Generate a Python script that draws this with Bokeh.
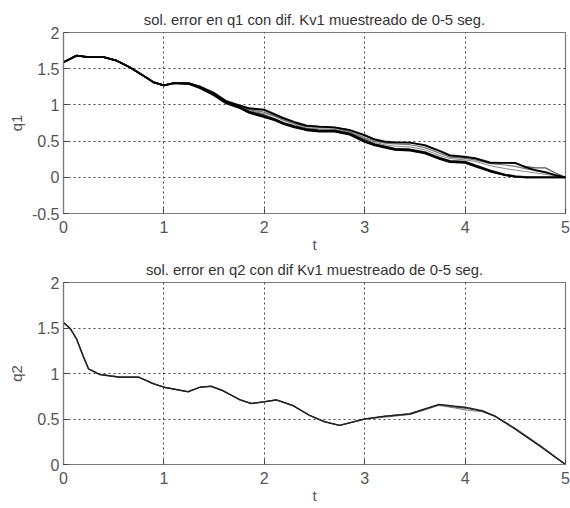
from bokeh.plotting import figure
from bokeh.layouts import column
from bokeh.models import FixedTicker
from bokeh.embed import file_html
from bokeh.resources import INLINE

# ---------------- data ----------------
title1 = "sol. error en q1 con dif. Kv1 muestreado de 0-5 seg."
title2 = "sol. error en q2 con dif Kv1 muestreado de 0-5 seg."
xticks = [0, 1, 2, 3, 4, 5]
yticks1 = [-0.5, 0, 0.5, 1, 1.5, 2]
yticks2 = [0, 0.5, 1, 1.5, 2]

t1 = [0, 0.13, 0.25, 0.4, 0.53, 0.66, 0.8, 0.9, 1.0, 1.1, 1.25, 1.36, 1.5, 1.62,
      1.75, 1.85, 2.0, 2.1, 2.2, 2.3, 2.42, 2.55, 2.7, 2.85, 3.0, 3.1, 3.2, 3.3,
      3.45, 3.6, 3.75, 3.85, 4.0, 4.1, 4.25, 4.4, 4.5, 4.6, 4.7, 4.8, 4.9, 5.0]

q1_a = [1.59, 1.68, 1.66, 1.66, 1.61, 1.52, 1.40, 1.31, 1.27, 1.30, 1.30, 1.25, 1.16, 1.05,
        0.99, 0.95, 0.93, 0.87, 0.81, 0.76, 0.71, 0.70, 0.69, 0.65, 0.58, 0.52, 0.49, 0.48,
        0.48, 0.44, 0.36, 0.30, 0.28, 0.26, 0.20, 0.20, 0.20, 0.14, 0.10, 0.07, 0.03, 0.0]
q1_b = [1.59, 1.68, 1.66, 1.66, 1.61, 1.52, 1.40, 1.31, 1.27, 1.30, 1.30, 1.26, 1.17, 1.06,
        1.00, 0.96, 0.94, 0.88, 0.82, 0.77, 0.72, 0.70, 0.69, 0.66, 0.59, 0.53, 0.50, 0.49,
        0.48, 0.45, 0.37, 0.31, 0.29, 0.27, 0.21, 0.20, 0.19, 0.15, 0.13, 0.13, 0.06, 0.0]
q1_c = [1.59, 1.68, 1.66, 1.66, 1.61, 1.52, 1.40, 1.31, 1.27, 1.30, 1.29, 1.25, 1.15, 1.04,
        0.98, 0.93, 0.90, 0.85, 0.79, 0.74, 0.70, 0.69, 0.68, 0.63, 0.55, 0.50, 0.47, 0.46,
        0.45, 0.41, 0.33, 0.28, 0.26, 0.24, 0.19, 0.17, 0.15, 0.12, 0.09, 0.06, 0.03, 0.0]
q1_d = [1.59, 1.68, 1.66, 1.66, 1.61, 1.52, 1.40, 1.31, 1.27, 1.30, 1.29, 1.24, 1.15, 1.04,
        0.98, 0.92, 0.88, 0.84, 0.78, 0.73, 0.68, 0.67, 0.66, 0.62, 0.54, 0.48, 0.45, 0.43,
        0.42, 0.38, 0.30, 0.26, 0.24, 0.22, 0.16, 0.12, 0.10, 0.08, 0.06, 0.04, 0.02, 0.0]
q1_e = [1.59, 1.68, 1.66, 1.66, 1.61, 1.52, 1.40, 1.31, 1.27, 1.30, 1.29, 1.24, 1.14, 1.03,
        0.97, 0.90, 0.84, 0.80, 0.74, 0.70, 0.66, 0.64, 0.64, 0.60, 0.50, 0.45, 0.42, 0.39,
        0.38, 0.34, 0.26, 0.22, 0.21, 0.16, 0.09, 0.03, 0.01, 0.0, 0.0, 0.0, 0.0, 0.0]
q1_f = [1.59, 1.68, 1.66, 1.66, 1.61, 1.52, 1.40, 1.31, 1.27, 1.30, 1.29, 1.24, 1.14, 1.03,
        0.97, 0.91, 0.86, 0.81, 0.75, 0.71, 0.67, 0.65, 0.65, 0.61, 0.52, 0.46, 0.43, 0.40,
        0.39, 0.35, 0.27, 0.23, 0.22, 0.17, 0.10, 0.04, 0.02, 0.01, 0.0, 0.0, 0.0, 0.0]
q1_g = [1.59, 1.68, 1.66, 1.66, 1.61, 1.52, 1.40, 1.31, 1.27, 1.30, 1.29, 1.23, 1.13, 1.02,
        0.96, 0.89, 0.83, 0.79, 0.73, 0.69, 0.65, 0.63, 0.63, 0.59, 0.49, 0.44, 0.41, 0.38,
        0.37, 0.33, 0.25, 0.21, 0.20, 0.15, 0.08, 0.03, 0.01, 0.0, 0.0, 0.0, 0.0, 0.0]

t2 = [0, 0.07, 0.13, 0.2, 0.25, 0.36, 0.56, 0.75, 0.89, 1.0, 1.24, 1.36, 1.47, 1.59,
      1.76, 1.87, 2.0, 2.12, 2.29, 2.45, 2.6, 2.75, 3.0, 3.2, 3.45, 3.6, 3.74, 3.9,
      4.0, 4.17, 4.3, 4.5, 4.75, 5.0]
q2_a = [1.56, 1.49, 1.38, 1.18, 1.05, 0.99, 0.96, 0.96, 0.89, 0.85, 0.80, 0.85, 0.86, 0.81,
        0.71, 0.67, 0.69, 0.71, 0.645, 0.54, 0.47, 0.43, 0.50, 0.53, 0.555, 0.61, 0.66, 0.64,
        0.63, 0.59, 0.53, 0.39, 0.20, 0.0]
q2_b = [1.56, 1.49, 1.38, 1.18, 1.05, 0.99, 0.96, 0.96, 0.89, 0.85, 0.80, 0.85, 0.86, 0.81,
        0.71, 0.67, 0.69, 0.71, 0.645, 0.54, 0.47, 0.43, 0.50, 0.52, 0.55, 0.60, 0.65, 0.62,
        0.60, 0.58, 0.53, 0.40, 0.21, 0.0]
q2_c = [1.56, 1.49, 1.38, 1.18, 1.05, 0.99, 0.96, 0.96, 0.89, 0.85, 0.80, 0.85, 0.86, 0.81,
        0.71, 0.67, 0.69, 0.71, 0.645, 0.54, 0.47, 0.43, 0.50, 0.53, 0.56, 0.61, 0.66, 0.63,
        0.62, 0.585, 0.53, 0.39, 0.20, 0.0]

FONT = "Liberation Sans"
GRAY = "#7a7a7a"
LABEL = "#555555"


def fmt(v):
    return ("%g" % v)


def make_fig(title, ylabel, yr, yticks, top, frame_h, bottom, ylab_standoff):
    p = figure(x_range=(0, 5), y_range=yr, frame_width=502, frame_height=frame_h,
               min_border_left=63, min_border_right=5, min_border_top=top,
               min_border_bottom=bottom, output_backend="svg", toolbar_location=None,
               background_fill_color="white", border_fill_color="white")
    p.title.text = title
    p.title.align = "center"
    p.title.text_font = FONT
    p.title.text_font_size = "14.8px"
    p.title.text_font_style = "normal"
    p.title.text_color = "#333333"
    p.title.standoff = 9
    p.outline_line_color = GRAY
    p.outline_line_width = 1.2
    p.outline_line_alpha = 1.0

    p.xaxis.ticker = FixedTicker(ticks=xticks)
    p.yaxis.ticker = FixedTicker(ticks=yticks)
    p.xaxis.major_label_overrides = {v: fmt(v) for v in xticks}
    p.yaxis.major_label_overrides = {v: fmt(v) for v in yticks}
    for ax in (p.xaxis, p.yaxis):
        ax.axis_line_color = GRAY
        ax.axis_line_width = 1.2
        ax.major_tick_in = 5
        ax.major_tick_out = 0
        ax.major_tick_line_color = "#444444"
        ax.minor_tick_line_color = None
        ax.major_label_text_font = FONT
        ax.major_label_text_font_size = "16px"
        ax.major_label_text_color = LABEL
        ax.axis_label_text_font = FONT
        ax.axis_label_text_font_size = "15px"
        ax.axis_label_text_font_style = "normal"
        ax.axis_label_text_color = LABEL
    p.xaxis.axis_label = "t"
    p.yaxis.axis_label = ylabel
    p.xaxis.major_label_standoff = 7
    p.xaxis.axis_label_standoff = 0
    p.yaxis.major_label_standoff = 4
    p.yaxis.axis_label_standoff = ylab_standoff

    for g in (p.xgrid, p.ygrid):
        g.grid_line_color = "#333333"
        g.grid_line_dash = "2 3"
        g.grid_line_width = 1
        g.grid_line_alpha = 0.9
    return p


p1 = make_fig(title1, "q1", (-0.5, 2), yticks1, 32, 181, 42, 4)
for ys, col, w in [(q1_d, "#888888", 1), (q1_c, "#777777", 1.2), (q1_g, "black", 1.8),
                   (q1_f, "#333333", 1.4), (q1_e, "black", 1.8), (q1_b, "#555555", 1.2),
                   (q1_a, "black", 1.8)]:
    p1.line(t1, ys, line_color=col, line_width=w)

p2 = make_fig(title2, "q2", (0, 2), yticks2, 25, 182, 46, 9)
for ys, col, w in [(q2_b, "#888888", 1.1), (q2_c, "#555555", 1.1), (q2_a, "#222222", 1.5)]:
    p2.line(t2, ys, line_color=col, line_width=w)

layout = column(p1, p2, spacing=0)
open("out.html", "w").write(file_html(layout, INLINE))
